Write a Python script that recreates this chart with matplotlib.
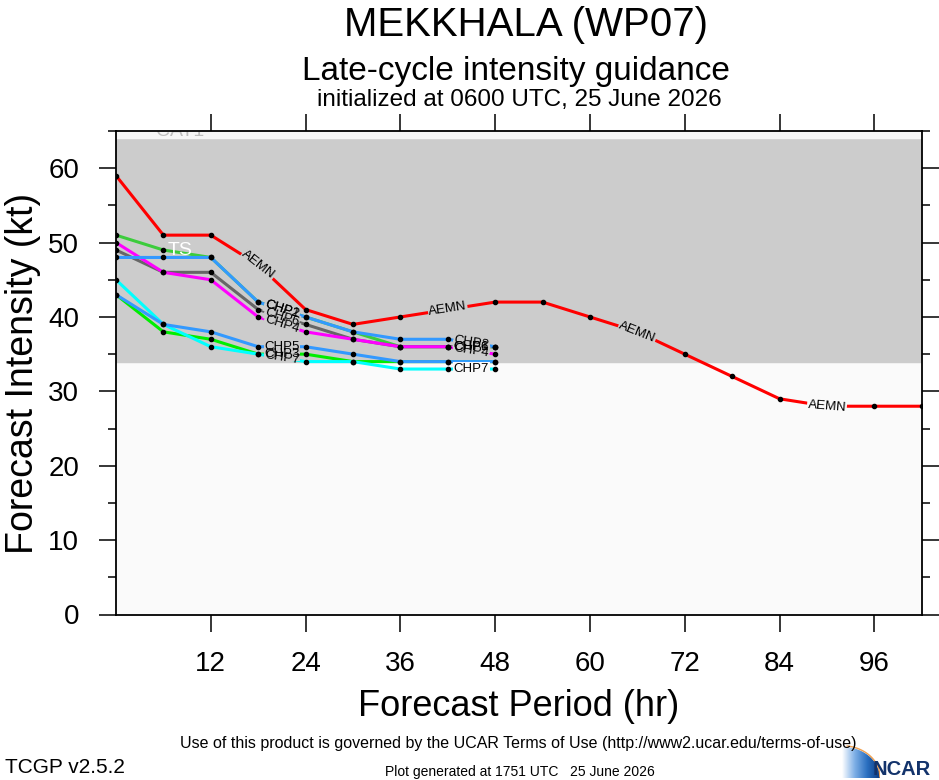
import numpy as np
import matplotlib
matplotlib.use("Agg")
import matplotlib.pyplot as plt
from matplotlib.ticker import MultipleLocator
from matplotlib.patches import Polygon
from matplotlib.colors import LinearSegmentedColormap

plt.rcParams['font.family'] = ['Liberation Sans', 'DejaVu Sans']

# forecast hours and intensities (kt)
hrs = [0, 6, 12, 18, 24, 30, 36, 42, 48]
aemn_hrs = [0, 6, 12, 18, 24, 30, 36, 42, 48, 54, 60, 66, 72, 78, 84, 90, 96, 102]
aemn = [59, 51, 51, 47, 41, 39, 40, 41, 42, 42, 40, 38, 35, 32, 29, 28, 28, 28]
chp1 = [51, 49, 48, 42, 40, 38, 36, 36, 36]
chp2 = [48, 48, 48, 42, 40, 38, 37, 37, 36]
chp6 = [49, 46, 46, 41, 39, 37, 36, 36, 36]
chp4 = [50, 46, 45, 40, 38, 37, 36, 36, 35]
chp3 = [43, 38, 37, 35, 35, 34, 34, 34, 34]
chp7 = [45, 39, 36, 35, 34, 34, 33, 33, 33]
chp5 = [43, 39, 38, 36, 36, 35, 34, 34, 34]

models = [("CHP1", chp1, "#3ccc3c"),
          ("CHP6", chp6, "#666666"),
          ("CHP4", chp4, "#ff00ff"),
          ("CHP2", chp2, "#3399ff"),
          ("CHP3", chp3, "#00ee00"),
          ("CHP7", chp7, "#00ffff"),
          ("CHP5", chp5, "#3399ff")]
label_hrs = {"CHP1": [21, 45], "CHP2": [21, 45], "CHP6": [21, 45], "CHP4": [21, 45],
             "CHP3": [21], "CHP7": [21, 45], "CHP5": [21]}
aemn_label_hrs = [18, 42, 66, 90]

W, H = 939, 780
def fx(x):
    return x / W
def fy(y):
    return 1 - y / H

fig = plt.figure(figsize=(W / 100, H / 100), dpi=100)
ax = fig.add_axes([fx(116), fy(614.5), (921.7 - 116) / W, (614.5 - 131) / H])
ax.set_xlim(0, 102)
ax.set_ylim(0, 65)

ax.axhspan(0, 34, color="#fafafa", zorder=0)
ax.axhspan(34, 64, color="#cccccc", zorder=0)
ax.axhspan(64, 70, color="#f6f6f6", zorder=0)
ax.text(8.1, 65, "CAT1", color="#bdbdbd", fontsize=14, ha="center", va="center",
        clip_on=True, zorder=1)

labels = []
for name, vals, col in models:
    ax.plot(hrs, vals, color=col, lw=2.2, zorder=2)
    ax.plot(hrs, vals, "o", color="k", ms=3, zorder=3)
    for h in label_hrs[name]:
        i = hrs.index(h - 3)
        labels.append((h, np.interp(h, hrs, vals), name,
                       np.degrees(np.arctan2(vals[i + 1] - vals[i], 6))))

ax.plot(aemn_hrs, aemn, color="#ff0000", lw=2.2, zorder=2.5)
ax.plot(aemn_hrs, aemn, "o", color="k", ms=3, zorder=3)
for h in aemn_label_hrs:
    i = aemn_hrs.index(h)
    labels.append((h, aemn[i], "AEMN",
                   np.degrees(np.arctan2(aemn[i + 1] - aemn[i - 1], 12))))

ax.text(8.1, 49, "TS", color="white", fontsize=14, ha="center", va="center", zorder=4)

# blank out the line under each label with the band colour, then write labels on top
for x, y, s, ang in labels:
    if 33.6 < y < 34.7:
        continue  # sits on the band edge, leave the line alone
    bg = "#cccccc" if y > 34 else "#fafafa"
    ax.text(x, y, s, fontsize=9.5, ha="center", va="center", rotation=ang,
            transform_rotates_text=True, rotation_mode="anchor", color="none",
            bbox=dict(boxstyle="square,pad=0.05", fc=bg, ec="none"), zorder=4)
for x, y, s, ang in labels:
    ax.text(x, y, s, fontsize=9.5, ha="center", va="center", rotation=ang,
            transform_rotates_text=True, rotation_mode="anchor", color="k", zorder=5)

ax.set_xticks([12, 24, 36, 48, 60, 72, 84, 96])
ax.yaxis.set_major_locator(MultipleLocator(10))
ax.yaxis.set_minor_locator(MultipleLocator(5))
ax.tick_params(axis="both", which="major", direction="out", length=12, width=1.1,
               labelsize=20, pad=14.5, top=True, right=True)
ax.tick_params(axis="y", which="minor", direction="out", length=6, width=1.1,
               left=True, right=True)
for sp in ax.spines.values():
    sp.set_linewidth(1.3)
    sp.set_zorder(6)

fig.text(fx(526), fy(36.5), "MEKKHALA (WP07)", fontsize=29, ha="center", va="baseline")
fig.text(fx(516), fy(80), "Late-cycle intensity guidance", fontsize=24, ha="center",
         va="baseline")
fig.text(fx(519), fy(106), "initialized at 0600 UTC, 25 June 2026", fontsize=17.5,
         ha="center", va="baseline")
fig.text(fx(519), fy(707), "Forecast Period (hr)", fontsize=26, ha="center", va="center")
fig.text(fx(23), fy(373), "Forecast Intensity (kt)", fontsize=27, ha="center",
         va="center", rotation=90)

fig.text(fx(518), fy(748), "Use of this product is governed by the UCAR Terms of Use "
         "(http://www2.ucar.edu/terms-of-use)", fontsize=11.5, ha="center",
         va="baseline")
fig.text(fx(5), fy(773), "TCGP v2.5.2", fontsize=15, ha="left", va="baseline")
fig.text(fx(520), fy(776), "Plot generated at 1751 UTC   25 June 2026", fontsize=10,
         ha="center", va="baseline")

# NCAR logo: blue swoosh and lettering
lax = fig.add_axes([fx(842), fy(778), 38 / W, 34 / H])
lax.set_xlim(0, 1)
lax.set_ylim(0, 1)
lax.axis("off")
xs = np.linspace(0, 1, 60)
arc = np.sqrt(np.clip(1 - xs ** 2, 0, 1)) * 0.92
blues = LinearSegmentedColormap.from_list("sw", ["#ffffff", "#7fb0e6", "#2a6fc0", "#0d3a80"])
img = lax.imshow(np.linspace(0, 1, 256).reshape(1, -1), extent=[0, 1, 0, 1],
                 aspect="auto", cmap=blues, origin="lower")
img.set_clip_path(Polygon(np.column_stack([np.r_[xs, 1, 0], np.r_[arc, 0, 0]]),
                          transform=lax.transData))
lax.plot(xs[8:], arc[8:] + 0.03, color="#f0a050", lw=1.0)
fig.text(fx(873), fy(775), "NCAR", fontsize=14.5, fontweight="bold", color="#13336b",
         ha="left", va="baseline")

fig.savefig("out.png", dpi=100)
